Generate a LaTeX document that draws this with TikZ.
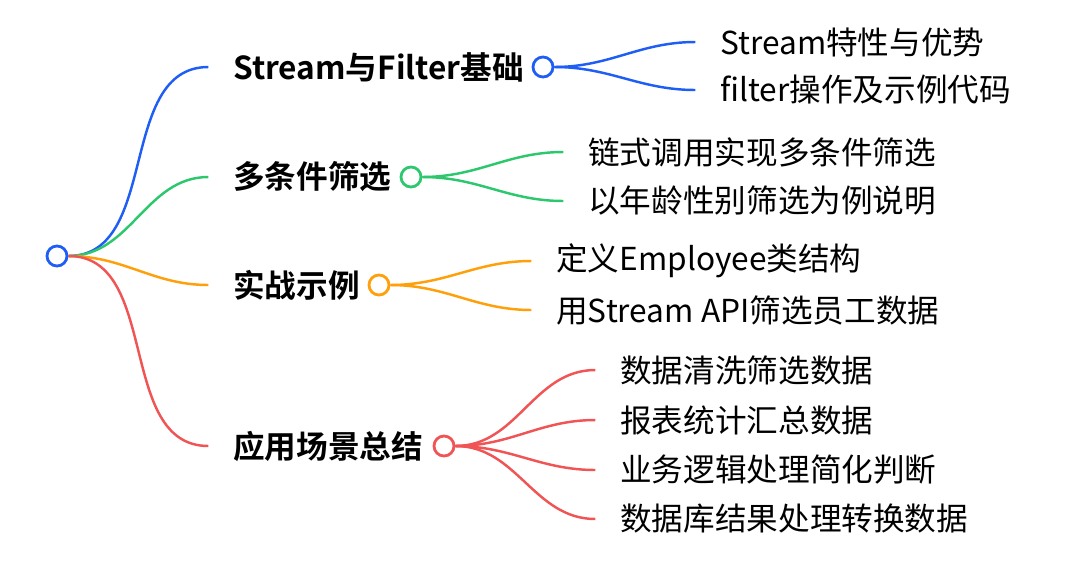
\documentclass[tikz,border=0pt]{standalone}
\usepackage{fontspec}
\setmainfont{Noto Sans CJK SC}[BoldFont={* Bold}]
\definecolor{cblue}{HTML}{1F5EF5}
\definecolor{cgreen}{HTML}{2DC86E}
\definecolor{corange}{HTML}{FF9F0A}
\definecolor{cred}{HTML}{F05454}
\begin{document}
\begin{tikzpicture}[x=0.02cm,y=-0.02cm]

      \tikzset{knot/.style={draw=#1, circle, line width=1.6pt, inner sep=0pt, minimum size=.40cm, fill=white},
               main/.style={anchor=west, font=\fontsize{18}{20}\selectfont\bfseries, inner sep=0pt},
               leaf/.style={anchor=west, font=\fontsize{18}{20}\selectfont, inner sep=0pt},
               link/.style={line width=1.4pt, out=0, in=180}}
      \useasboundingbox (0,0) rectangle (1075,579);
% Vertices
	%Wurzel
      	\node[knot=cblue] (r) at (57,256) {};
	%Stream与Filter基础
      	\node[main] (b1) at (233,67) {Stream与Filter基础};
      	\node[knot=cblue] (k1) at (543,67) {};
      	\node[leaf] (b11) at (720,42) {Stream特性与优势};
      	\node[leaf] (b12) at (720,90) {filter操作及示例代码};
	%多条件筛选
      	\node[main] (b2) at (233,177) {多条件筛选};
      	\node[knot=cgreen] (k2) at (411,177) {};
      	\node[leaf] (b21) at (588,152) {链式调用实现多条件筛选};
      	\node[leaf] (b22) at (588,201) {以年龄性别筛选为例说明};
	%实战示例
      	\node[main] (b3) at (233,285) {实战示例};
      	\node[knot=corange] (k3) at (379,285) {};
      	\node[leaf] (b31) at (556,261) {定义Employee类结构};
      	\node[leaf] (b32) at (556,310) {用Stream API筛选员工数据};
	%应用场景总结
      	\node[main] (b4) at (233,446) {应用场景总结};
      	\node[knot=cred] (k4) at (444,446) {};
      	\node[leaf] (b41) at (620,370) {数据清洗筛选数据};
      	\node[leaf] (b42) at (620,420) {报表统计汇总数据};
      	\node[leaf] (b43) at (620,470) {业务逻辑处理简化判断};
      	\node[leaf] (b44) at (620,519) {数据库结果处理转换数据};

%Edges
	%Wurzel
		\draw[link, cblue] (r.east) to ([xshift=-14]b1.west);
		\draw[link, cgreen] (r.east) to ([xshift=-14]b2.west);
		\draw[link, corange] (r.east) to ([xshift=-14]b3.west);
		\draw[link, cred] (r.east) to ([xshift=-14]b4.west);
	%Blaetter
		\draw[link, cblue] (k1.east) to ([xshift=-14]b11.west);
		\draw[link, cblue] (k1.east) to ([xshift=-14]b12.west);
		\draw[link, cgreen] (k2.east) to ([xshift=-14]b21.west);
		\draw[link, cgreen] (k2.east) to ([xshift=-14]b22.west);
		\draw[link, corange] (k3.east) to ([xshift=-14]b31.west);
		\draw[link, corange] (k3.east) to ([xshift=-14]b32.west);
		\draw[link, cred] (k4.east) to ([xshift=-14]b41.west);
		\draw[link, cred] (k4.east) to ([xshift=-14]b42.west);
		\draw[link, cred] (k4.east) to ([xshift=-14]b43.west);
		\draw[link, cred] (k4.east) to ([xshift=-14]b44.west);

	\end{tikzpicture}
\end{document}
